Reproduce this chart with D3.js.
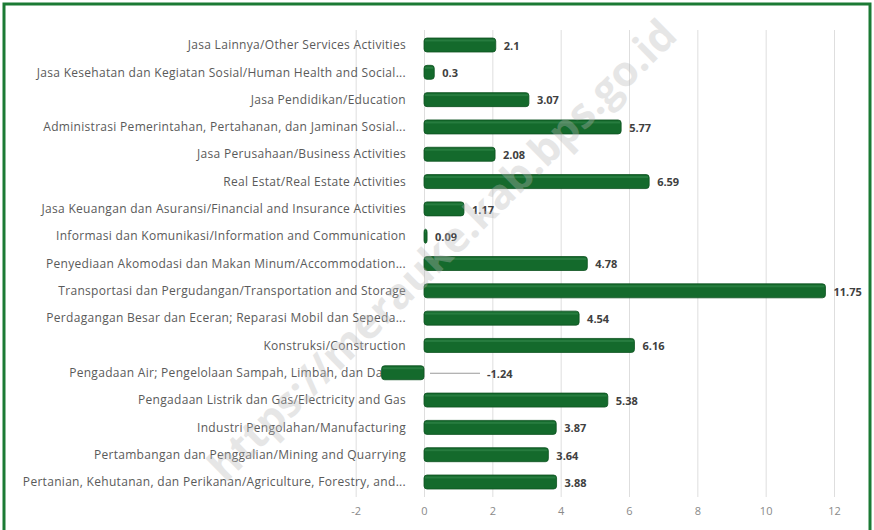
<!DOCTYPE html>
<html>
<head>
<meta charset="utf-8">
<script src="https://cdn.jsdelivr.net/npm/d3@7"></script>
<style>
  body { margin: 0; background: #fff; }
  svg { display: block; }
</style>
</head>
<body>
<svg id="chart"></svg>
<script>
// categories top to bottom, as in the picture
const categories = [
  "Jasa Lainnya/Other Services Activities",
  "Jasa Kesehatan dan Kegiatan Sosial/Human Health and Social...",
  "Jasa Pendidikan/Education",
  "Administrasi Pemerintahan, Pertahanan, dan Jaminan Sosial...",
  "Jasa Perusahaan/Business Activities",
  "Real Estat/Real Estate Activities",
  "Jasa Keuangan dan Asuransi/Financial and Insurance Activities",
  "Informasi dan Komunikasi/Information and Communication",
  "Penyediaan Akomodasi dan Makan Minum/Accommodation...",
  "Transportasi dan Pergudangan/Transportation and Storage",
  "Perdagangan Besar dan Eceran; Reparasi Mobil dan Sepeda...",
  "Konstruksi/Construction",
  "Pengadaan Air; Pengelolaan Sampah, Limbah, dan Daur...",
  "Pengadaan Listrik dan Gas/Electricity and Gas",
  "Industri Pengolahan/Manufacturing",
  "Pertambangan dan Penggalian/Mining and Quarrying",
  "Pertanian, Kehutanan, dan Perikanan/Agriculture, Forestry, and..."
];
const growth = [2.1, 0.3, 3.07, 5.77, 2.08, 6.59, 1.17, 0.09, 4.78, 11.75, 4.54, 6.16, -1.24, 5.38, 3.87, 3.64, 3.88];
const tickValues = [-2, 0, 2, 4, 6, 8, 10, 12];
const watermark = "https://merauke.kab.bps.go.id";

const width = 874, height = 530;
const data = categories.map((c, i) => ({ name: c, value: growth[i] }));
const font = "'Open Sans', Lato, sans-serif";

const svg = d3.select("#chart")
  .attr("width", width)
  .attr("height", height);

const x = d3.scaleLinear()
  .domain([0, 12])
  .range([424, 834]);

const y = d3.scalePoint()
  .domain(categories)
  .range([45, 482]);

const barH = 14;
const green = "#146a2c";

// grid lines
svg.append("g")
  .selectAll("line")
  .data(tickValues)
  .join("line")
  .attr("x1", d => x(d) + 0.5)
  .attr("x2", d => x(d) + 0.5)
  .attr("y1", 30)
  .attr("y2", 497)
  .attr("stroke", "#dedede")
  .attr("stroke-width", 1);

// x axis labels
const xAxis = d3.axisBottom(x)
  .tickValues(tickValues)
  .tickSize(0)
  .tickPadding(0)
  .tickFormat(d => String(d));

const axisG = svg.append("g")
  .attr("transform", "translate(0,507)")
  .call(xAxis);
axisG.select(".domain").remove();
axisG.selectAll("text")
  .attr("fill", "#8a8a8a")
  .attr("font-family", font)
  .attr("font-size", 11)
  .attr("dy", "0.71em");

// category labels
svg.append("g")
  .selectAll("text")
  .data(data)
  .join("text")
  .attr("x", 406)
  .attr("y", d => y(d.name))
  .attr("dy", "0.35em")
  .attr("text-anchor", "end")
  .attr("fill", "#5a5a5a")
  .attr("font-family", font)
  .attr("font-size", 12)
  .attr("letter-spacing", 0.3)
  .text(d => d.name);

// bars
svg.append("g")
  .selectAll("rect")
  .data(data)
  .join("rect")
  .attr("x", d => d.value < 0 ? x(d.value) : x(0))
  .attr("y", d => y(d.name) - barH / 2)
  .attr("width", d => Math.max(3, Math.abs(x(d.value) - x(0))))
  .attr("height", barH)
  .attr("rx", 3)
  .attr("fill", green)
  .attr("stroke", "#0c5220")
  .attr("stroke-width", 0.8);

// bar highlight
svg.append("g")
  .selectAll("rect")
  .data(data)
  .join("rect")
  .attr("x", d => (d.value < 0 ? x(d.value) : x(0)) + 1)
  .attr("y", d => y(d.name) - barH / 2 + 1.5)
  .attr("width", d => Math.max(1, Math.abs(x(d.value) - x(0)) - 2))
  .attr("height", 2)
  .attr("fill", "#2f8447")
  .attr("opacity", 0.7);

// leader line for the negative value
const labelOffset = 63;
svg.append("g")
  .selectAll("line")
  .data(data.filter(d => d.value < 0))
  .join("line")
  .attr("x1", x(0) + 6)
  .attr("x2", x(0) + labelOffset - 7)
  .attr("y1", d => y(d.name) + 0.5)
  .attr("y2", d => y(d.name) + 0.5)
  .attr("stroke", "#9a9a9a")
  .attr("stroke-width", 1);

// value labels
svg.append("g")
  .selectAll("text")
  .data(data)
  .join("text")
  .attr("x", d => d.value < 0 ? x(0) + labelOffset : x(d.value) + 8)
  .attr("y", d => y(d.name) + 1)
  .attr("dy", "0.35em")
  .attr("fill", "#404040")
  .attr("font-family", font)
  .attr("font-weight", "bold")
  .attr("font-size", 11)
  .text(d => d.value);

// watermark
svg.append("text")
  .attr("transform", "translate(442,250) rotate(-44.5)")
  .attr("text-anchor", "middle")
  .attr("dy", "0.35em")
  .attr("font-family", font)
  .attr("font-weight", "bold")
  .attr("font-size", 42)
  .attr("fill", "#b8b8b8")
  .attr("opacity", 0.35)
  .text(watermark);

// frame
svg.append("rect")
  .attr("x", 4)
  .attr("y", 4)
  .attr("width", 866)
  .attr("height", 530)
  .attr("fill", "none")
  .attr("stroke", "#1b7a34")
  .attr("stroke-width", 3);
</script>
</body>
</html>
